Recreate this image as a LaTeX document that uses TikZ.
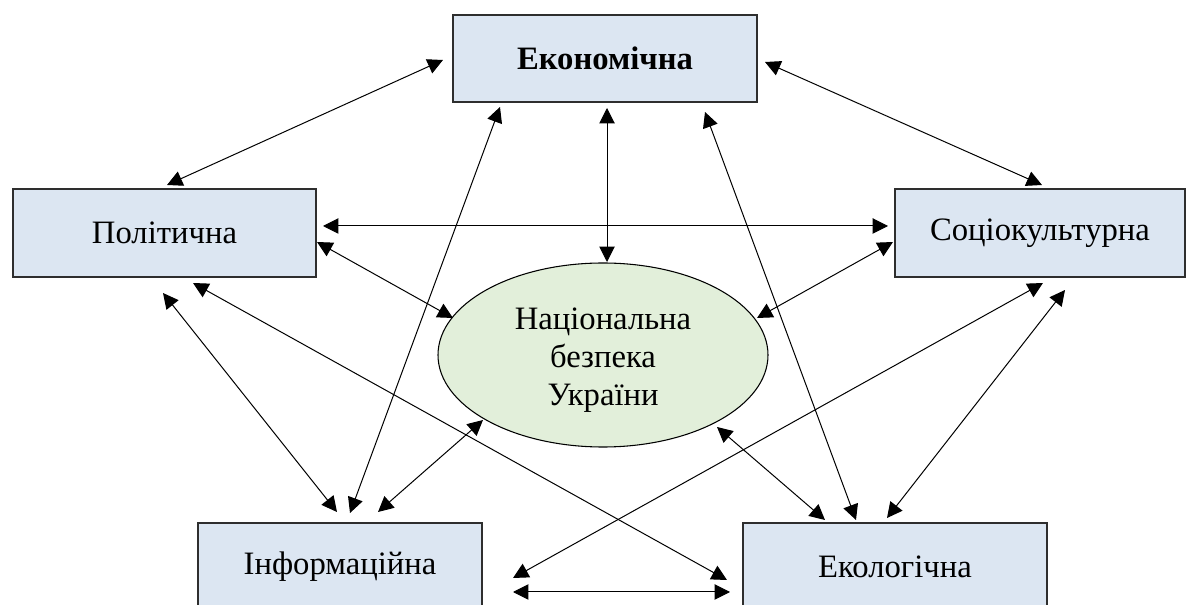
\documentclass[tikz,border=0pt]{standalone}
\usepackage{fontspec}
\setmainfont{Liberation Serif}
\usetikzlibrary{arrows.meta,calc,shapes.geometric}
\definecolor{boxfill}{HTML}{DCE6F2}
\definecolor{ellfill}{HTML}{E2EFDA}
\definecolor{edge}{HTML}{2E2E2E}
\begin{document}
\begin{tikzpicture}[x=0.75pt,y=-0.75pt,
  area/.style={draw=edge,line width=1pt,fill=boxfill,rectangle,inner sep=0pt,
    minimum height=65.25pt,font=\fontsize{24.5}{28}\selectfont},
  core/.style={draw=black,line width=0.8pt,fill=ellfill,ellipse,inner sep=0pt,
    minimum width=247.5pt,minimum height=138pt,align=center,
    font=\fontsize{24.5}{28.5}\selectfont},
  link/.style={{Triangle[length=11.5pt,width=11.5pt]}-{Triangle[length=11.5pt,width=11.5pt]},
    line width=0.75pt,black}]
\useasboundingbox (0,0) rectangle (1186,605);
\clip (0,0) rectangle (1186,605);

% the five spheres of security
\node[area,minimum width=228pt,font=\fontsize{24.5}{28}\selectfont\bfseries] (econ) at (605,58.5) {Економічна};
\node[area,minimum width=227.25pt,minimum height=66pt] (pol) at (164.5,233) {Політична};
\node[area,minimum width=217.5pt,minimum height=66pt] (socio) at (1040,233) {Соціокультурна};
\node[area,minimum width=213pt] (info) at (340,566.5) {Інформаційна};
\node[area,minimum width=228pt] (ecol) at (895,566.5) {Екологічна};

% the centre
\node[core] (nsu) at (603,355) {};
\node[font=\fontsize{24.5}{28.5}\selectfont,align=center] (nsutext) at (603,360) {Національна\\безпека\\України};

% mutual links
\draw[link] ($(econ.center)+(-162,1.5)$) -- ($(pol.center)+(2.5,-48)$);
\draw[link] ($(econ.center)+(160,3.5)$) -- ($(socio.center)+(2,-48)$);
\draw[link] ($(econ.center)+(2,49.5)$) -- ($(nsu.center)+(4,-93)$);
\draw[link] ($(econ.center)+(-105,48.5)$) -- ($(info.center)+(10,-53.5)$);
\draw[link] ($(econ.center)+(100,53.5)$) -- ($(ecol.center)+(-39,-46.5)$);
\draw[link] ($(pol.center)+(158.5,-7)$) -- ($(socio.center)+(-152,-7)$);
\draw[link] ($(pol.center)+(152.5,9)$) -- ($(nsu.center)+(-150,-37)$);
\draw[link] ($(socio.center)+(-147,9)$) -- ($(nsu.center)+(154,-37)$);
\draw[link] ($(pol.center)+(-1.5,60)$) -- ($(info.center)+(-3,-54.5)$);
\draw[link] ($(pol.center)+(28.5,50)$) -- ($(ecol.center)+(-168,13.5)$);
\draw[link] ($(socio.center)+(3,50)$) -- ($(info.center)+(173,11.5)$);
\draw[link] ($(socio.center)+(25,57)$) -- ($(ecol.center)+(-8,-48.5)$);
\draw[link] ($(nsu.center)+(-120,65)$) -- ($(info.center)+(38,-54.5)$);
\draw[link] ($(nsu.center)+(114,72)$) -- ($(ecol.center)+(-70,-46.5)$);
\draw[link] ($(info.center)+(173,25.5)$) -- ($(ecol.center)+(-165,25.5)$);
\end{tikzpicture}
\end{document}
